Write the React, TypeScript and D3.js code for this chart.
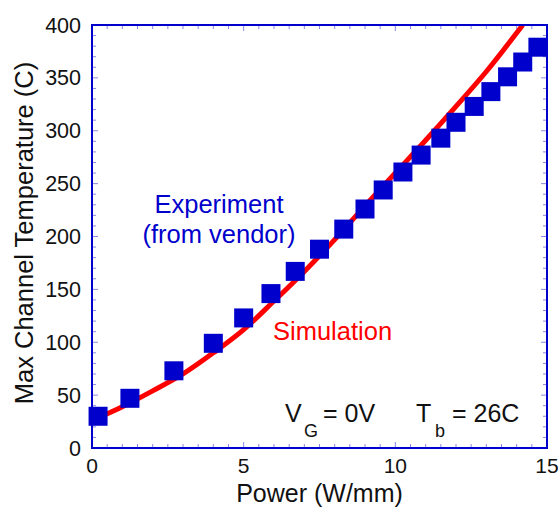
import * as d3 from 'd3';
import React from 'react';

// experiment (from vendor)
const expPower = [0.2, 1.25, 2.7, 4.0, 5.0, 5.9, 6.7, 7.5, 8.3, 9.0, 9.6, 10.25, 10.85, 11.5, 12.0, 12.6, 13.15, 13.7, 14.2, 14.7];
const expTemp = [30, 47, 73, 99, 123, 146, 167, 188, 207, 226, 244, 261, 277, 293, 308, 323, 337, 351, 365, 379];

// simulation curve
const simPower = [0, 1, 2, 3, 4, 5, 6, 7, 8, 9, 10, 11, 12, 13, 14.2];
const simTemp = [26, 39, 54, 70, 90, 112, 139, 167, 197, 229, 260, 291, 323, 356, 400];

const xTickLabels = [0, 5, 10, 15];
const yTickLabels = [0, 50, 100, 150, 200, 250, 300, 350, 400];

const W = 560;
const H = 509;
const left = 92, right = 547, top = 25, bottom = 448;
const font = '"Liberation Sans", Arial, Helvetica, sans-serif';
const blue = '#0000cc';
const tickColor = '#8a8ae6';

export default function App() {
  const x = d3.scaleLinear().domain([0, 15]).range([left, right]);
  const y = d3.scaleLinear().domain([0, 400]).range([bottom, top]);

  const simData = simPower.map((p, i) => [p, simTemp[i]] as [number, number]);
  const line = d3.line<[number, number]>()
    .x(d => x(d[0]))
    .y(d => y(d[1]))
    .curve(d3.curveMonotoneX);

  const xMinor = d3.range(0, 15.001, 0.5);
  const yMinor = d3.range(0, 400.001, 10);
  const sq = 19;

  return (
    <svg width={W} height={H} style={{position: 'absolute', left: 0, top: 0}} fontFamily={font}>
      <rect x={0} y={0} width={W} height={H} fill="#fff" />
      <defs>
        <clipPath id="plot">
          <rect x={left} y={top} width={right - left} height={bottom - top} />
        </clipPath>
      </defs>

      {/* ticks inside the frame, all four sides */}
      <g stroke={tickColor} strokeWidth={1}>
        {xMinor.map(v => {
          const len = v % 5 === 0 ? 6 : 4;
          return (
            <g key={'x' + v}>
              <line x1={x(v)} x2={x(v)} y1={bottom} y2={bottom - len} />
              <line x1={x(v)} x2={x(v)} y1={top} y2={top + len} />
            </g>
          );
        })}
        {yMinor.map(v => {
          const len = v % 50 === 0 ? 6 : 4;
          return (
            <g key={'y' + v}>
              <line x1={left} x2={left + len} y1={y(v)} y2={y(v)} />
              <line x1={right} x2={right - len} y1={y(v)} y2={y(v)} />
            </g>
          );
        })}
      </g>

      <path d={line(simData) || ''} fill="none" stroke="#ff0000" strokeWidth={5} clipPath="url(#plot)" />

      {expPower.map((p, i) => (
        <rect key={i} x={x(p) - sq / 2} y={y(expTemp[i]) - sq / 2} width={sq} height={sq} fill={blue} />
      ))}

      <rect x={left} y={top} width={right - left} height={bottom - top} fill="none" stroke={blue} strokeWidth={2} />

      {yTickLabels.map(v => (
        <text key={v} x={81} y={y(v)} dy="0.35em" textAnchor="end" fontSize={21.5} fill="#111">{v}</text>
      ))}
      {xTickLabels.map(v => (
        <text key={v} x={x(v)} y={473} textAnchor="middle" fontSize={21} fill="#111">{v}</text>
      ))}

      <text x={(left + right) / 2} y={502} textAnchor="middle" fontSize={25} fill="#111">Power (W/mm)</text>
      <text transform={`translate(33,233) rotate(-90)`} textAnchor="middle" fontSize={25.5} fill="#111">
        Max Channel Temperature (C)
      </text>

      <text x={219} y={213} textAnchor="middle" fontSize={25.5} fill={blue}>Experiment</text>
      <text x={219} y={243} textAnchor="middle" fontSize={25.5} fill={blue}>(from vendor)</text>
      <text x={273} y={340} fontSize={25.5} fill="#ff0000">Simulation</text>

      <text x={285} y={422} fontSize={25} fill="#111">V</text>
      <text x={304} y={437} fontSize={18} fill="#111">G</text>
      <text x={323} y={422} fontSize={25} fill="#111">= 0V</text>
      <text x={416} y={422} fontSize={25} fill="#111">T</text>
      <text x={435} y={437} fontSize={18} fill="#111">b</text>
      <text x={452} y={422} fontSize={25} fill="#111">= 26C</text>
    </svg>
  );
}
